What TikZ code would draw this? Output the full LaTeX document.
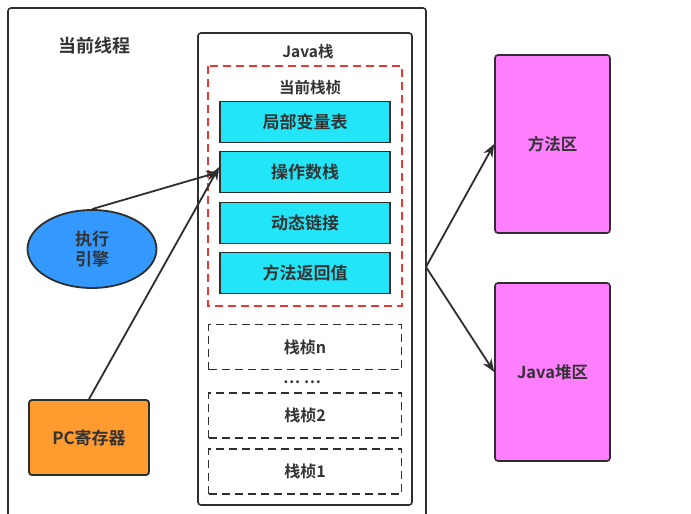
\documentclass[tikz,border=0pt]{standalone}
\usepackage{fontspec}
\setmainfont{Noto Sans CJK SC}[BoldFont={Noto Sans CJK SC Bold}]
\usetikzlibrary{arrows.meta,shapes.geometric}
\definecolor{ln}{HTML}{2E2E2E}
\definecolor{tx}{HTML}{333333}
\definecolor{cyanf}{HTML}{22E6F7}
\definecolor{bluef}{HTML}{3399FF}
\definecolor{orangef}{HTML}{FF9B2F}
\definecolor{magf}{HTML}{FF7FFF}
\definecolor{redd}{HTML}{E53935}
\tikzset{
  plainbox/.style={draw=ln, line width=1.6pt, rounded corners=3pt, inner sep=0pt},
  cyanbox/.style={draw=ln, line width=1.8pt, fill=cyanf, minimum width=170pt, minimum height=41pt, inner sep=0pt, font=\bfseries\fontsize{17}{19}\selectfont, text=tx},
  dashbox/.style={draw=ln, line width=1.8pt, dash pattern=on 8pt off 5pt, minimum width=193pt, minimum height=45pt, inner sep=0pt, font=\bfseries\fontsize{16}{18}\selectfont, text=tx},
  magbox/.style={draw=ln, line width=1.6pt, fill=magf, rounded corners=3pt, minimum width=115pt, minimum height=178pt, inner sep=0pt, font=\bfseries\fontsize{16.5}{18}\selectfont, text=tx},
  lbl/.style={font=\bfseries\fontsize{15.5}{17}\selectfont, text=tx, inner sep=0pt},
  conn/.style={draw=ln, line width=1.8pt, -{Stealth[length=13pt,width=10pt]}},
}
\begin{document}
\begin{tikzpicture}[x=1pt,y=-1pt]
\useasboundingbox (0,0) rectangle (691,514);
\clip (0,0) rectangle (691,514);
\fill[white] (0,0) rectangle (691,514);
% outer thread box
\draw[plainbox] (8,8) rectangle (426,530);
\node[lbl, font=\bfseries\fontsize{18}{20}\selectfont] (title) at (94,46) {当前线程};
% java stack
\draw[plainbox] (198,33) rectangle (412,505);
\node[lbl] (jstack) at (308,52) {Java栈};
% current frame
\draw[draw=redd, line width=1.8pt, dash pattern=on 8pt off 5pt] (208,66) rectangle (402,306);
\node[lbl] (cur) at (310,88) {当前栈桢};
\node[cyanbox] (lv)  at (305,122) {局部变量表};
\node[cyanbox] (ops) at (305,172) {操作数栈};
\node[cyanbox] (dl)  at (305,223) {动态链接};
\node[cyanbox] (ret) at (305,273) {方法返回值};
% other frames
\node[dashbox] (fn) at (305,347) {栈桢n};
\node[lbl] (dots) at (302,382) {… …};
\node[dashbox] (f2) at (305,415.5) {栈桢2};
\node[dashbox] (f1) at (305,471.5) {栈桢1};
% execution engine & pc
\node[ellipse, draw=ln, line width=1.8pt, fill=bluef, minimum width=129pt, minimum height=78pt, inner sep=0pt, align=center, font=\bfseries\fontsize{17}{20}\selectfont, text=tx] (ee) at (92,249) {执行\\引擎};
\node[draw=ln, line width=1.8pt, fill=orangef, rounded corners=3pt, minimum width=120pt, minimum height=75pt, inner sep=0pt, font=\bfseries\fontsize{17}{19}\selectfont, text=tx] (pc) at (89,437.5) {PC寄存器};
% right areas
\node[magbox] (ma) at (552.5,144) {方法区};
\node[magbox] (heap) at (552.5,372) {Java堆区};
% connectors
\coordinate (split) at (426,267);
\draw[conn] (ee.north) -- (ops.west);
\draw[conn] (pc.north) -- ([yshift=5pt]ops.west);
\draw[conn] (split) -- (ma.west);
\draw[conn] (split) -- (heap.west);
\end{tikzpicture}
\end{document}
